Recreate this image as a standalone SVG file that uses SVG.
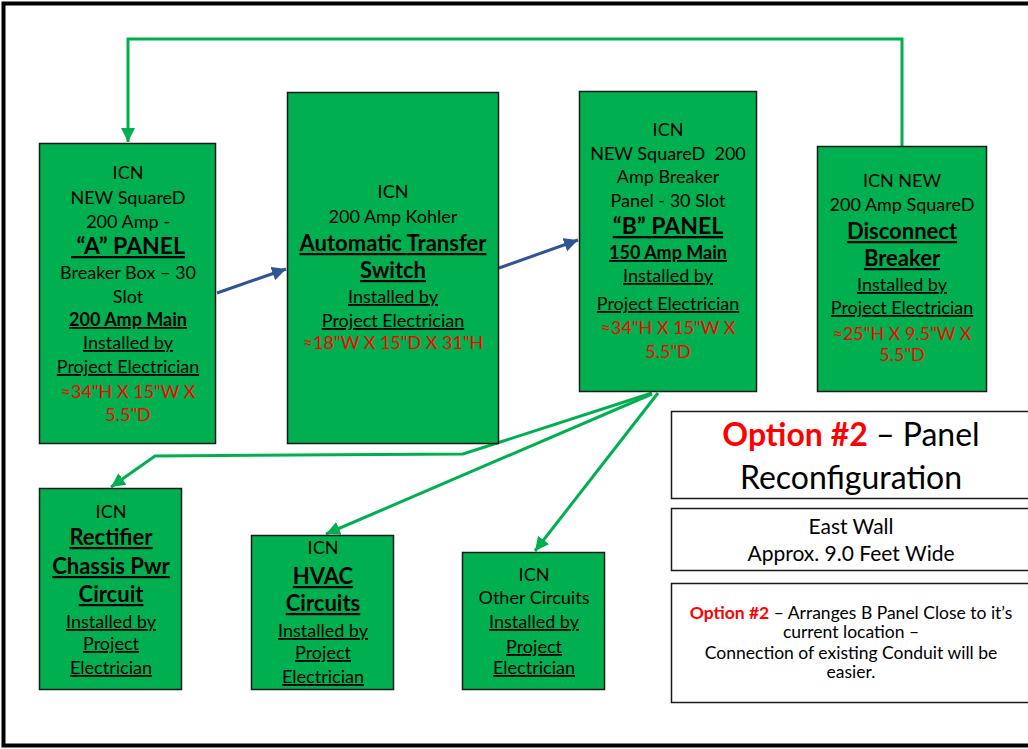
<svg xmlns="http://www.w3.org/2000/svg" width="1028" height="749" viewBox="0 0 1028 749">
<style>
text{font-family:Lato,"Liberation Sans",sans-serif;text-anchor:middle;fill:#000}
.n{font-size:18px}
.b{font-size:22px;font-weight:bold;text-decoration:underline}
.m{font-size:18px;font-weight:bold;text-decoration:underline}
.u{text-decoration:underline}
.r{fill:#FF0000}
.box{fill:#00B050;stroke:#1a1a1a;stroke-width:1.5}
.wb{fill:#fff;stroke:#1a1a1a;stroke-width:1.5}
.g{fill:none;stroke:#00B050;stroke-width:3}
.bl{fill:none;stroke:#2F5597;stroke-width:3}
</style>
<defs>
<marker id="ag" markerUnits="userSpaceOnUse" markerWidth="16" markerHeight="16" refX="14" refY="7" orient="auto"><path d="M0,0 L14,7 L0,14 Z" fill="#00B050"/></marker>
<marker id="ab" markerUnits="userSpaceOnUse" markerWidth="16" markerHeight="16" refX="14" refY="7" orient="auto"><path d="M0,0 L14,7 L0,14 Z" fill="#2F5597"/></marker>
</defs>
<rect x="0" y="0" width="1028" height="749" fill="#fff"/>
<rect x="3.5" y="3.5" width="1030" height="742" fill="none" stroke="#000" stroke-width="4"/>

<g id="connectors">
<polyline class="g" points="902,146 902,39 128,39 128,142" marker-end="url(#ag)"/>
<line class="bl" x1="217" y1="293" x2="286" y2="269" marker-end="url(#ab)"/>
<line class="bl" x1="499" y1="268" x2="578" y2="240" marker-end="url(#ab)"/>
<polyline class="g" points="652,393 463,454 155,456 111,487" marker-end="url(#ag)"/>
<line class="g" x1="652" y1="394" x2="326" y2="534" marker-end="url(#ag)"/>
<line class="g" x1="658" y1="393" x2="535" y2="551" marker-end="url(#ag)"/>
</g>

<g id="panelA">
<rect class="box" x="39.5" y="143.5" width="176" height="300"/>
<text class="n" x="128" y="179">ICN</text>
<text class="n" x="128" y="204">NEW SquareD</text>
<text class="n" x="128" y="228">200 Amp -</text>
<text class="b" x="128" y="254" style="font-size:23px;white-space:pre"> “A” PANEL</text>
<text class="n" x="128" y="279">Breaker Box – 30</text>
<text class="n" x="128" y="303">Slot</text>
<text class="m" x="128" y="326">200 Amp Main</text>
<text class="n u" x="128" y="349">Installed by</text>
<text class="n u" x="128" y="373">Project Electrician</text>
<text class="n r" x="128" y="398">≈34"H X 15"W X</text>
<text class="n r" x="128" y="421">5.5"D</text>
</g>

<g id="ats">
<rect class="box" x="287.5" y="92.5" width="211" height="351"/>
<text class="n" x="393" y="198">ICN</text>
<text class="n" x="393" y="223">200 Amp Kohler</text>
<text class="b" x="393" y="251">Automatic Transfer</text>
<text class="b" x="393" y="278">Switch</text>
<text class="n u" x="393" y="303">Installed by</text>
<text class="n u" x="393" y="327">Project Electrician</text>
<text class="n r" x="393" y="349">≈18"W X 15"D X 31"H</text>
</g>

<g id="panelB">
<rect class="box" x="579.5" y="91.5" width="177" height="300"/>
<text class="n" x="668" y="136">ICN</text>
<text class="n" x="668" y="160" style="white-space:pre">NEW SquareD  200</text>
<text class="n" x="668" y="183">Amp Breaker</text>
<text class="n" x="668" y="207">Panel - 30 Slot</text>
<text class="b" x="668" y="234" style="font-size:23px">“B” PANEL</text>
<text class="m" x="668" y="259">150 Amp Main</text>
<text class="n u" x="668" y="282">Installed by</text>
<text class="n u" x="668" y="310">Project Electrician</text>
<text class="n r" x="668" y="334">≈34"H X 15"W X</text>
<text class="n r" x="668" y="358">5.5"D</text>
</g>

<g id="disconnect">
<rect class="box" x="817.5" y="146.5" width="169" height="245"/>
<text class="n" x="902" y="187">ICN NEW</text>
<text class="n" x="902" y="211">200 Amp SquareD</text>
<text class="b" x="902" y="239">Disconnect</text>
<text class="b" x="902" y="266">Breaker</text>
<text class="n u" x="902" y="291">Installed by</text>
<text class="n u" x="902" y="314">Project Electrician</text>
<text class="n r" x="902" y="340">≈25"H X 9.5"W X</text>
<text class="n r" x="902" y="361">5.5"D</text>
</g>

<g id="rectifier">
<rect class="box" x="39.5" y="488.5" width="142" height="201"/>
<text class="n" x="111" y="518">ICN</text>
<text class="b" x="111" y="545">Rectifier</text>
<text class="b" x="111" y="574">Chassis Pwr</text>
<text class="b" x="111" y="602">Circuit</text>
<text class="n u" x="111" y="628">Installed by</text>
<text class="n u" x="111" y="650">Project</text>
<text class="n u" x="111" y="674">Electrician</text>
</g>

<g id="hvac">
<rect class="box" x="251.5" y="535.5" width="142" height="154"/>
<text class="n" x="323" y="554">ICN</text>
<text class="b" x="323" y="584">HVAC</text>
<text class="b" x="323" y="611">Circuits</text>
<text class="n u" x="323" y="637">Installed by</text>
<text class="n u" x="323" y="659">Project</text>
<text class="n u" x="323" y="683">Electrician</text>
</g>

<g id="other">
<rect class="box" x="462.5" y="552.5" width="142" height="137"/>
<text class="n" x="534" y="581">ICN</text>
<text class="n" x="534" y="604">Other Circuits</text>
<text class="n u" x="534" y="628">Installed by</text>
<text class="n u" x="534" y="653">Project</text>
<text class="n u" x="534" y="674">Electrician</text>
</g>

<g id="title">
<rect class="wb" x="671.5" y="411.5" width="370" height="87"/>
<text x="851" y="446" style="font-size:32px"><tspan class="r" font-weight="bold">Option #2</tspan> – Panel</text>
<text x="851" y="489" style="font-size:32px">Reconfiguration</text>
</g>

<g id="eastwall">
<rect class="wb" x="671.5" y="508.5" width="370" height="62"/>
<text x="851" y="534" style="font-size:21px">East Wall</text>
<text x="851" y="561" style="font-size:21px">Approx. 9.0 Feet Wide</text>
</g>

<g id="note">
<rect class="wb" x="671.5" y="583.5" width="370" height="119"/>
<text x="851" y="619" style="font-size:17.5px"><tspan class="r" font-weight="bold">Option #2</tspan> – Arranges B Panel Close to it’s</text>
<text x="851" y="638" style="font-size:17.5px">current location –</text>
<text x="851" y="659" style="font-size:17.5px">Connection of existing Conduit will be</text>
<text x="851" y="678" style="font-size:17.5px">easier.</text>
</g>
</svg>
